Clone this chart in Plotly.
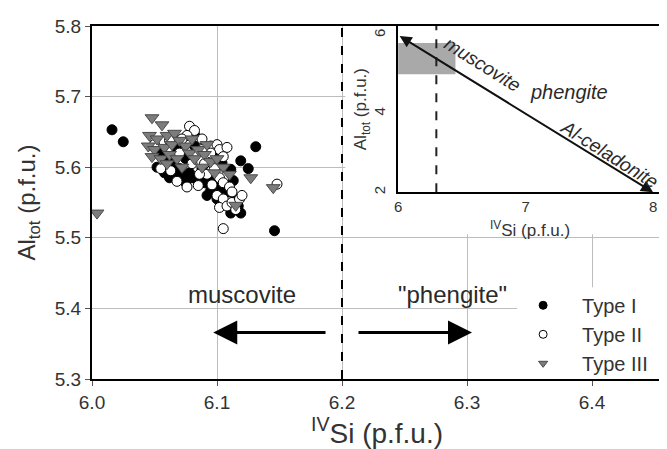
import plotly.graph_objects as go

# ---------------- data ----------------
type1_si = [6.016, 6.025, 6.131, 6.119, 6.111, 6.113, 6.146, 6.119, 6.111, 6.056,
            6.060, 6.065, 6.070, 6.066, 6.072, 6.078, 6.080, 6.085, 6.090, 6.075,
            6.095, 6.100, 6.105, 6.110, 6.095, 6.088, 6.075, 6.068, 6.082, 6.098,
            6.104, 6.052, 6.058, 6.062, 6.080, 6.082, 6.115, 6.117, 6.092, 6.100,
            6.125]
type1_al = [5.653, 5.636, 5.629, 5.609, 5.597, 5.581, 5.510, 5.535, 5.535, 5.620,
            5.612, 5.605, 5.598, 5.592, 5.588, 5.592, 5.585, 5.580, 5.578, 5.578,
            5.585, 5.575, 5.570, 5.565, 5.568, 5.598, 5.612, 5.625, 5.630, 5.615,
            5.606, 5.600, 5.592, 5.585, 5.650, 5.646, 5.555, 5.545, 5.560, 5.555,
            5.598]

type2_si = [6.078, 6.082, 6.076, 6.072, 6.088, 6.095, 6.100, 6.102, 6.108, 6.105,
            6.095, 6.088, 6.050, 6.055, 6.063, 6.068, 6.076, 6.085, 6.092, 6.098,
            6.102, 6.105, 6.110, 6.100, 6.105, 6.102, 6.108, 6.112, 6.118, 6.105,
            6.148, 6.070, 6.080, 6.086, 6.090, 6.062, 6.112, 6.096, 6.115, 6.120]
type2_al = [5.658, 5.652, 5.645, 5.640, 5.640, 5.630, 5.632, 5.625, 5.628, 5.615,
            5.620, 5.625, 5.632, 5.598, 5.595, 5.580, 5.572, 5.574, 5.590, 5.598,
            5.585, 5.578, 5.572, 5.560, 5.555, 5.543, 5.545, 5.550, 5.555, 5.513,
            5.576, 5.620, 5.605, 5.590, 5.605, 5.638, 5.565, 5.575, 5.540, 5.560]

type3_si = [6.004, 6.048, 6.056, 6.046, 6.052, 6.060, 6.066, 6.045, 6.050, 6.058,
            6.064, 6.070, 6.075, 6.048, 6.055, 6.062, 6.068, 6.078, 6.085, 6.082,
            6.090, 6.095, 6.088, 6.072, 6.100, 6.105, 6.098, 6.110, 6.127, 6.145,
            6.115, 6.080, 6.092, 6.060]
type3_al = [5.535, 5.670, 5.660, 5.645, 5.640, 5.645, 5.648, 5.630, 5.625, 5.628,
            5.632, 5.638, 5.630, 5.615, 5.612, 5.618, 5.612, 5.620, 5.625, 5.612,
            5.618, 5.608, 5.600, 5.600, 5.612, 5.600, 5.592, 5.590, 5.585, 5.571,
            5.546, 5.640, 5.632, 5.605]

series_names = ["Type I", "Type II", "Type III"]

main_x_ticks = [6.0, 6.1, 6.2, 6.3, 6.4]
main_y_ticks = [5.3, 5.4, 5.5, 5.6, 5.7, 5.8]
boundary_si = 6.2

# inset: muscovite -> Al-celadonite substitution line
inset_end_si = [6.0, 8.0]
inset_end_al = [6.0, 2.0]
inset_box_si = [6.0, 6.45]
inset_box_al = [5.0, 5.8]
inset_boundary_si = 6.3
inset_x_ticks = [6, 7, 8]
inset_y_ticks = [2, 4, 6]

# white panels (main-axis units) hiding the gridlines behind inset and legend
panel_x = [6.2026, 6.456, 6.456, 6.2026, 6.2026]
panel_y = [5.505, 5.505, 5.8, 5.8, 5.505]
legend_panel_x = [6.340, 6.456, 6.456, 6.340, 6.340]
legend_panel_y = [5.3, 5.3, 5.43, 5.43, 5.3]

FONT = "Liberation Sans, Arial, sans-serif"
TXT = "#2a2a2a"

fig = go.Figure()

for px_, py_ in [(panel_x, panel_y), (legend_panel_x, legend_panel_y)]:
    fig.add_trace(go.Scatter(x=px_, y=py_, mode="lines", fill="toself",
                             fillcolor="white", line=dict(width=0, color="white"),
                             showlegend=False, hoverinfo="skip", xaxis="x", yaxis="y"))

styles = [
    dict(symbol="circle", color="black", line=dict(color="black", width=1)),
    dict(symbol="circle", color="white", line=dict(color="black", width=1)),
    dict(symbol="triangle-down", color="#7c7c7c", line=dict(color="#4a4a4a", width=1)),
]
sizes = [10, 10, 12]
data = [(type1_si, type1_al), (type2_si, type2_al), (type3_si, type3_al)]

for (xs, ys), st, sz, nm in zip(data, styles, sizes, series_names):
    fig.add_trace(go.Scatter(x=xs, y=ys, mode="markers", name=nm, showlegend=False,
                             marker=dict(size=sz, **st), xaxis="x", yaxis="y"))

for st, nm in zip(styles, series_names):
    fig.add_trace(go.Scatter(x=[None], y=[None], mode="markers", name=nm,
                             marker=dict(size=8, **st), xaxis="x", yaxis="y"))

fig.add_trace(go.Scatter(x=inset_end_si, y=inset_end_al, mode="lines",
                         line=dict(color="rgba(0,0,0,0)"), showlegend=False,
                         xaxis="x2", yaxis="y2", hoverinfo="skip"))

axis_common = dict(showline=True, linecolor="black", linewidth=2, mirror=True,
                   ticks="outside", ticklen=5, tickcolor="#555",
                   gridcolor="#bdbdbd", gridwidth=1, zeroline=False,
                   ticklabeloverflow="allow",
                   tickfont=dict(family=FONT, size=19, color="#333"))

fig.update_layout(
    width=667, height=449,
    margin=dict(l=84, r=13, t=8, b=78),
    paper_bgcolor="white", plot_bgcolor="white",
    xaxis=dict(range=[6.0, 6.456], tickvals=main_x_ticks, tickformat=".1f",
               title=dict(text="<sup>IV</sup>Si (p.f.u.)",
                          font=dict(family=FONT, size=28, color="#333"), standoff=4),
               domain=[0, 1], **axis_common),
    yaxis=dict(range=[5.3, 5.8], tickvals=main_y_ticks, tickformat=".1f",
               title=dict(text="Al<sub>tot</sub> (p.f.u.)",
                          font=dict(family=FONT, size=24, color="#333"), standoff=12),
               domain=[0, 1], **axis_common),
    xaxis2=dict(domain=[0.537, 1.0], anchor="y2", range=[6.0, 8.07],
                tickvals=inset_x_ticks, showgrid=False, zeroline=False,
                showline=True, linecolor="black", linewidth=2, mirror=True,
                ticks="", tickfont=dict(family=FONT, size=15, color="#333")),
    yaxis2=dict(domain=[0.529, 1.0], anchor="x2", range=[2.0, 6.23],
                tickvals=inset_y_ticks, showgrid=False, zeroline=False,
                showline=True, linecolor="black", linewidth=2, mirror=True,
                ticks="", tickangle=-90, ticklabelstandoff=5,
                tickfont=dict(family=FONT, size=15, color="#333")),
    legend=dict(x=0.723, xanchor="left", y=0.264, yanchor="top",
                bgcolor="rgba(0,0,0,0)", borderwidth=0, itemwidth=68,
                font=dict(family=FONT, size=20, color="#333"),
                tracegroupgap=0),
    showlegend=True,
)

shapes = [
    dict(type="line", xref="x", yref="paper", x0=boundary_si, x1=boundary_si, y0=0, y1=1,
         line=dict(color="black", width=2, dash="dash"), layer="above"),
    dict(type="rect", xref="x2", yref="y2", x0=inset_box_si[0], x1=inset_box_si[1],
         y0=inset_box_al[0], y1=inset_box_al[1], fillcolor="#a9a9a9",
         line=dict(width=0), layer="below"),
    dict(type="line", xref="x2", yref="paper", x0=inset_boundary_si, x1=inset_boundary_si,
         y0=0.529, y1=1, line=dict(color="#222", width=2, dash="dash"), layer="above"),
]
fig.update_layout(shapes=shapes)

ann = [
    dict(xref="x", yref="y", x=6.12, y=5.42, text="muscovite", showarrow=False,
         font=dict(family=FONT, size=24, color=TXT)),
    dict(xref="x", yref="y", x=6.288, y=5.42, text='"phengite"', showarrow=False,
         font=dict(family=FONT, size=24, color=TXT)),
    dict(xref="x", yref="y", axref="x", ayref="y", x=6.097, y=5.366, ax=6.188, ay=5.366,
         showarrow=True, arrowhead=2, arrowsize=1.6, arrowwidth=3, arrowcolor="black", text=""),
    dict(xref="x", yref="y", axref="x", ayref="y", x=6.304, y=5.366, ax=6.212, ay=5.366,
         showarrow=True, arrowhead=2, arrowsize=1.6, arrowwidth=3, arrowcolor="black", text=""),
    dict(xref="x2", yref="y2", axref="x2", ayref="y2",
         x=inset_end_si[1], y=inset_end_al[1], ax=inset_end_si[0], ay=inset_end_al[0],
         showarrow=True, arrowhead=2, startarrowhead=2, arrowside="end+start",
         arrowsize=1.2, startarrowsize=1.2, arrowwidth=2, arrowcolor="#111", text=""),
    dict(xref="x2", yref="y2", x=6.665, y=5.26, text="<i>muscovite</i>", showarrow=False,
         textangle=32, font=dict(family=FONT, size=19, color=TXT)),
    dict(xref="x2", yref="y2", x=7.34, y=4.55, text="<i>phengite</i>", showarrow=False,
         font=dict(family=FONT, size=20, color=TXT)),
    dict(xref="x2", yref="y2", x=7.66, y=2.96, text="<i>Al-celadonite</i>", showarrow=False,
         textangle=32, font=dict(family=FONT, size=19, color=TXT)),
    # inset axis titles
    dict(xref="x2 domain", yref="y2 domain", x=0.5, y=0, yshift=-37, yanchor="middle",
         text="<sup>IV</sup>Si (p.f.u.)", showarrow=False,
         font=dict(family=FONT, size=17, color="#333")),
    dict(xref="x2 domain", yref="y2 domain", x=0, y=0.5, xshift=-36, xanchor="center",
         text="Al<sub>tot</sub> (p.f.u.)", showarrow=False, textangle=-90,
         font=dict(family=FONT, size=17, color="#333")),
]
fig.update_layout(annotations=ann)

fig.write_html("out.html")
